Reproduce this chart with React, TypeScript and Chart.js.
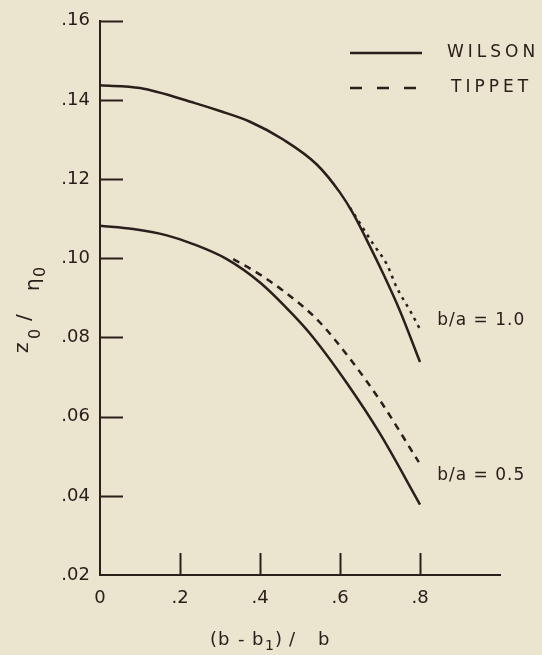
import React, { useEffect, useRef } from "react";
import { Chart, registerables } from "chart.js";

Chart.register(...registerables);

// ---- data ----
const wilson10X = [0, 0.1, 0.2375, 0.3, 0.375, 0.458, 0.542, 0.6, 0.633, 0.667, 0.708, 0.75, 0.8];
const wilson10Y = [0.1437, 0.143, 0.1392, 0.1372, 0.1345, 0.13, 0.1237, 0.1166, 0.1113, 0.1046, 0.0961, 0.0867, 0.0738];

const tippet10X = [0.625, 0.683, 0.717, 0.742, 0.775, 0.802];
const tippet10Y = [0.1128, 0.1036, 0.0985, 0.0926, 0.0868, 0.0817];

const wilson05X = [0, 0.083, 0.167, 0.233, 0.317, 0.4, 0.483, 0.533, 0.617, 0.7, 0.8];
const wilson05Y = [0.1082, 0.1074, 0.1058, 0.1036, 0.0998, 0.0939, 0.0857, 0.08, 0.0685, 0.0557, 0.0378];

const tippet05X = [0.333, 0.392, 0.458, 0.546, 0.625, 0.7, 0.797];
const tippet05Y = [0.0998, 0.0964, 0.0918, 0.0842, 0.0746, 0.0641, 0.0485];

const xTickValues = [0.2, 0.4, 0.6, 0.8];
const yTickValues = [0.04, 0.06, 0.08, 0.1, 0.12, 0.14, 0.16];

const legendLabels = ["WILSON", "TIPPET"];
const curveLabels = ["b/a = 1.0", "b/a = 0.5"];
const curveLabelX = [0.843, 0.843];
const curveLabelY = [0.0842, 0.0452];

const INK = "#2a201b";
const BG = "#ebe4cf";
const FONT = "'DejaVu Sans', sans-serif";

const pts = (xs: number[], ys: number[]) => xs.map((x, i) => ({ x, y: ys[i] }));

const fmtY = (v: number) => "." + String(Math.round(v * 100)).padStart(2, "0");
const fmtX = (v: number) => {
  const r = Math.round(v * 10);
  if (r === 0) return "0";
  if (r >= 10) return "";
  return "." + r;
};

const decor = {
  id: "decor",
  beforeDraw(chart: any) {
    const { ctx, width, height } = chart;
    ctx.save();
    ctx.fillStyle = BG;
    ctx.fillRect(0, 0, width, height);
    ctx.restore();
  },
  afterDraw(chart: any) {
    const { ctx, chartArea, scales } = chart;
    const xs = scales.x;
    const ys = scales.y;
    ctx.save();
    ctx.strokeStyle = INK;
    ctx.fillStyle = INK;
    ctx.lineWidth = 2;
    // inward ticks
    yTickValues.forEach((v) => {
      const py = Math.round(ys.getPixelForValue(v)) + 0.5;
      ctx.beginPath();
      ctx.moveTo(chartArea.left, py);
      ctx.lineTo(chartArea.left + 23, py);
      ctx.stroke();
    });
    xTickValues.forEach((v) => {
      const px = Math.round(xs.getPixelForValue(v)) + 0.5;
      ctx.beginPath();
      ctx.moveTo(px, chartArea.bottom);
      ctx.lineTo(px, chartArea.bottom - 22);
      ctx.stroke();
    });

    // legend
    ctx.lineWidth = 2.5;
    ctx.beginPath();
    ctx.moveTo(350, 53);
    ctx.lineTo(422, 53);
    ctx.stroke();
    ctx.setLineDash([12, 15]);
    ctx.beginPath();
    ctx.moveTo(350, 88);
    ctx.lineTo(422, 88);
    ctx.stroke();
    ctx.setLineDash([]);

    ctx.font = `17px ${FONT}`;
    (ctx as any).letterSpacing = "4px";
    ctx.textBaseline = "middle";
    ctx.textAlign = "left";
    ctx.fillText(legendLabels[0], 447, 53);
    ctx.fillText(legendLabels[1], 451, 88);

    // curve labels
    (ctx as any).letterSpacing = "1px";
    ctx.font = `17px ${FONT}`;
    curveLabels.forEach((t, i) => {
      ctx.fillText(t, xs.getPixelForValue(curveLabelX[i]), ys.getPixelForValue(curveLabelY[i]));
    });

    // x axis title: (b - b1)/b
    ctx.textBaseline = "alphabetic";
    (ctx as any).letterSpacing = "0px";
    ctx.font = `18px ${FONT}`;
    const yb = 645;
    const parts: [string, number][] = [["(", 210], ["b", 218], ["-", 238], ["b", 252], [")", 275], ["/", 289], ["b", 318]];
    parts.forEach(([t, px]) => ctx.fillText(t, px, yb));
    ctx.font = `14px ${FONT}`;
    ctx.fillText("1", 265, yb + 5);

    // y axis title: z0/η0 rotated (reads bottom to top)
    ctx.rotate(-Math.PI / 2);
    ctx.font = `20px ${FONT}`;
    ctx.fillText("z", -353, 28);
    ctx.font = `16px ${FONT}`;
    ctx.fillText("0", -339, 40);
    ctx.font = `20px ${FONT}`;
    ctx.fillText("/", -321, 30);
    ctx.fillText("η", -291, 39);
    ctx.font = `16px ${FONT}`;
    ctx.fillText("0", -277, 45);
    ctx.restore();
  },
};

export default function App() {
  const ref = useRef<HTMLCanvasElement>(null);
  useEffect(() => {
    document.body.style.margin = "0";
    const canvas = ref.current!;
    const line = (data: any, dash: number[]) => ({
      data,
      borderColor: INK,
      borderWidth: 2.5,
      borderDash: dash,
      pointRadius: 0,
      fill: false,
      cubicInterpolationMode: "monotone" as const,
    });
    const chart = new Chart(canvas, {
      type: "line",
      data: {
        datasets: [
          line(pts(wilson10X, wilson10Y), []),
          line(pts(tippet10X, tippet10Y), [3, 5]),
          line(pts(wilson05X, wilson05Y), []),
          line(pts(tippet05X, tippet05Y), [7, 6]),
        ],
      },
      options: {
        animation: false,
        responsive: false,
        devicePixelRatio: 1,
        layout: { padding: { top: 19, right: 42, left: 0, bottom: 0 } },
        plugins: { legend: { display: false }, tooltip: { enabled: false } },
        scales: {
          x: {
            type: "linear",
            min: 0,
            max: 1,
            grid: { display: false, drawTicks: false },
            border: { display: true, color: INK, width: 2 },
            ticks: {
              stepSize: 0.2,
              padding: 13,
              color: INK,
              font: { family: FONT, size: 18 },
              maxRotation: 0,
              callback: (v: any) => fmtX(Number(v)),
            },
            afterFit: (s: any) => {
              s.height = 80;
            },
          },
          y: {
            type: "linear",
            min: 0.02,
            max: 0.16,
            grid: { display: false, drawTicks: false },
            border: { display: true, color: INK, width: 2 },
            ticks: {
              stepSize: 0.02,
              padding: 10,
              color: INK,
              font: { family: FONT, size: 18 },
              callback: (v: any) => fmtY(Number(v)),
            },
            afterFit: (s: any) => {
              s.width = 100;
            },
          },
        },
      },
      plugins: [decor],
    });
    return () => chart.destroy();
  }, []);
  return (
    <div style={{ position: "fixed", left: 0, top: 0, width: 542, height: 655, background: BG }}>
      <canvas ref={ref} width={542} height={655} />
    </div>
  );
}
